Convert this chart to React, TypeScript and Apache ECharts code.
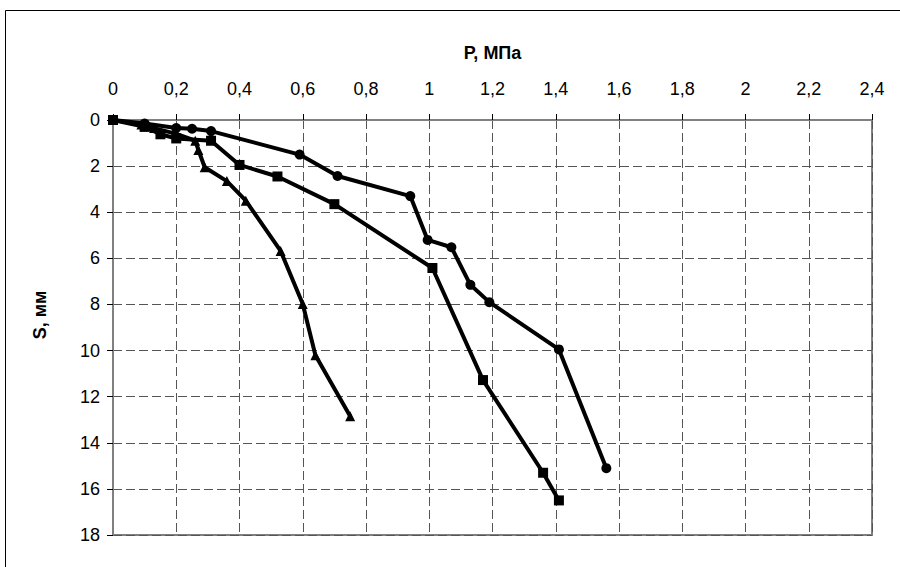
import React, { useEffect, useRef } from "react";
import * as echarts from "echarts";

// P, MPa values and S, mm settlements for three test series
const circleP = [0, 0.1, 0.2, 0.25, 0.31, 0.59, 0.71, 0.94, 0.995, 1.07, 1.13, 1.19, 1.41, 1.56];
const circleS = [0, 0.15, 0.35, 0.38, 0.48, 1.5, 2.43, 3.3, 5.2, 5.52, 7.15, 7.9, 9.95, 15.1];

const squareP = [0, 0.1, 0.15, 0.2, 0.31, 0.4, 0.52, 0.7, 1.01, 1.17, 1.36, 1.41];
const squareS = [0, 0.3, 0.62, 0.8, 0.9, 1.95, 2.45, 3.65, 6.42, 11.28, 15.3, 16.5];

const triangleP = [0, 0.09, 0.13, 0.2, 0.26, 0.27, 0.29, 0.36, 0.42, 0.53, 0.6, 0.64, 0.75];
const triangleS = [0, 0.2, 0.35, 0.6, 0.9, 1.3, 2.05, 2.65, 3.5, 5.68, 7.98, 10.2, 12.85];

const xTitle = "P, МПа";
const yTitle = "S, мм";

const pairs = (xs: number[], ys: number[]) => xs.map((x, i) => [x, ys[i]]);

export default function App() {
  const ref = useRef<HTMLDivElement>(null);
  useEffect(() => {
    if (!ref.current) return;
    const chart = echarts.init(ref.current, undefined, { renderer: "svg" });
    const font = "'Liberation Sans', Arial, sans-serif";
    const lineStyle = { color: "#000", width: 4 };
    const mk = (name: string, symbol: string, size: number, data: number[][]) => ({
      name,
      type: "line",
      data,
      symbol,
      symbolSize: size,
      showAllSymbol: true,
      lineStyle,
      itemStyle: { color: "#000" },
      z: 5,
    });
    chart.setOption({
      animation: false,
      backgroundColor: "#fff",
      graphic: [
        {
          type: "rect",
          shape: { x: 5.5, y: 10.5, width: 1000, height: 1000 },
          style: { fill: "none", stroke: "#000", lineWidth: 1 },
          silent: true,
        },
        {
          type: "text",
          x: 40,
          y: 315,
          rotation: Math.PI / 2,
          style: {
            text: yTitle,
            fontFamily: font,
            fontSize: 18,
            fontWeight: "bold",
            fill: "#000",
            align: "center",
            verticalAlign: "middle",
          },
          silent: true,
        },
      ],
      grid: {
        left: 113,
        right: 28,
        top: 120,
        bottom: 32,
        show: true,
        borderColor: "#808080",
        borderWidth: 2,
      },
      xAxis: {
        type: "value",
        position: "top",
        min: 0,
        max: 2.4,
        interval: 0.2,
        name: xTitle,
        nameLocation: "middle",
        nameGap: 58,
        nameTextStyle: { fontFamily: font, fontSize: 18, fontWeight: "bold", color: "#000" },
        axisLine: { show: true, lineStyle: { color: "#808080", width: 2 } },
        axisTick: { show: true, inside: false, length: 6, lineStyle: { color: "#000", width: 1 } },
        axisLabel: {
          margin: 22,
          fontFamily: font,
          fontSize: 18,
          color: "#000",
          formatter: (v: number) => String(Math.round(v * 10) / 10).replace(".", ","),
        },
        splitLine: { show: true, lineStyle: { color: "#555", width: 1, type: [9, 4] } },
      },
      yAxis: {
        type: "value",
        inverse: true,
        min: 0,
        max: 18,
        interval: 2,
        axisLine: { show: true, lineStyle: { color: "#808080", width: 2 } },
        axisTick: { show: true, inside: false, length: 6, lineStyle: { color: "#000", width: 1 } },
        axisLabel: { margin: 13, fontFamily: font, fontSize: 18, color: "#000" },
        splitLine: { show: true, lineStyle: { color: "#555", width: 1, type: [9, 4] } },
      },
      series: [
        mk("circle", "circle", 10, pairs(circleP, circleS)),
        mk("square", "rect", 10, pairs(squareP, squareS)),
        mk("triangle", "triangle", 10, pairs(triangleP, triangleS)),
      ],
    });
    return () => chart.dispose();
  }, []);
  return (
    <div
      ref={ref}
      style={{ position: "fixed", left: 0, top: 0, width: 900, height: 567 }}
    />
  );
}
